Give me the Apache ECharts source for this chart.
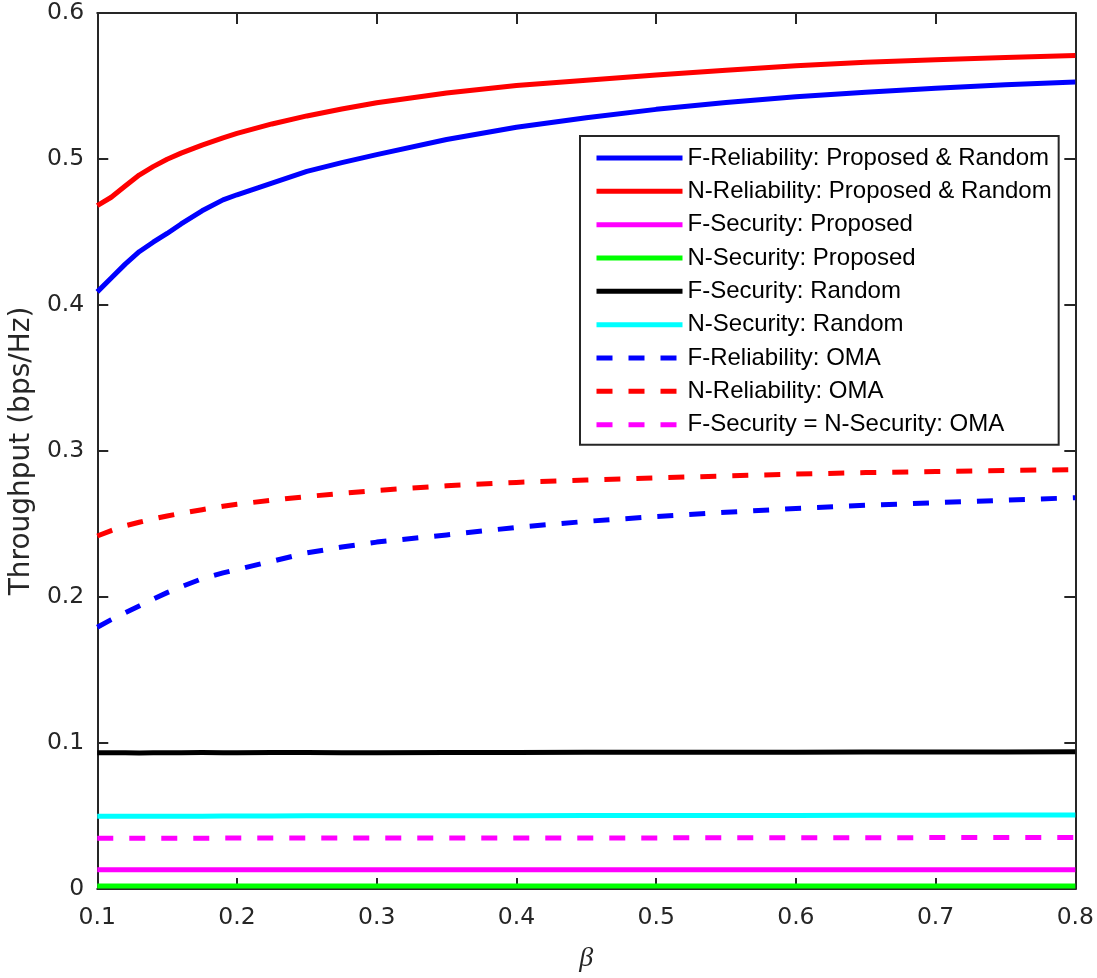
<!DOCTYPE html>
<html>
<head>
<meta charset="utf-8">
<script src="https://cdn.jsdelivr.net/npm/echarts@6/dist/echarts.min.js"></script>
<style>
html,body{margin:0;padding:0;background:#fff;overflow:hidden;}
#chart{width:1097px;height:978px;}
</style>
</head>
<body>
<div id="chart"></div>
<script>
// beta values (x axis)
const beta = [0.1, 0.11, 0.12, 0.13, 0.14, 0.15, 0.16, 0.175, 0.19, 0.2, 0.225, 0.25, 0.275, 0.3, 0.35, 0.4, 0.45, 0.5, 0.55, 0.6, 0.65, 0.7, 0.75, 0.8];

// series values
const fRelProposedRandom = [0.409, 0.4185, 0.428, 0.4365, 0.4430, 0.4490, 0.4555, 0.4645, 0.4720, 0.4755, 0.4835, 0.4915, 0.4975, 0.5030, 0.5134, 0.5218, 0.5282, 0.5340, 0.5387, 0.5426, 0.5458, 0.5485, 0.5508, 0.5527];
const nRelProposedRandom = [0.468, 0.4738, 0.4815, 0.4890, 0.4948, 0.4998, 0.5040, 0.5095, 0.5145, 0.5175, 0.5240, 0.5295, 0.5342, 0.5385, 0.5452, 0.5504, 0.5540, 0.5575, 0.5608, 0.5638, 0.5662, 0.5679, 0.5695, 0.5709];
const fSecProposed = [0.0132, 0.0132, 0.0132, 0.0132, 0.0132, 0.0132, 0.0132, 0.0132, 0.0132, 0.0132, 0.0132, 0.0132, 0.0132, 0.0132, 0.0132, 0.0132, 0.0132, 0.0132, 0.0132, 0.0132, 0.0132, 0.0132, 0.0132, 0.0132];
const nSecProposed = [0.002, 0.002, 0.002, 0.002, 0.002, 0.002, 0.002, 0.002, 0.002, 0.002, 0.002, 0.002, 0.002, 0.002, 0.002, 0.002, 0.002, 0.002, 0.002, 0.002, 0.002, 0.002, 0.002, 0.002];
const fSecRandom = [0.0934, 0.0933, 0.0933, 0.0932, 0.0933, 0.0934, 0.0934, 0.0935, 0.0934, 0.0934, 0.0935, 0.0935, 0.0934, 0.0934, 0.0935, 0.0935, 0.0936, 0.0936, 0.0937, 0.0937, 0.0938, 0.0938, 0.0939, 0.0940];
const nSecRandom = [0.0498, 0.0498, 0.0498, 0.0498, 0.0499, 0.0499, 0.0499, 0.0499, 0.0500, 0.0500, 0.0500, 0.0501, 0.0501, 0.0501, 0.0502, 0.0502, 0.0503, 0.0503, 0.0504, 0.0504, 0.0505, 0.0505, 0.0506, 0.0506];
const fRelOMA = [0.1793, 0.1845, 0.1892, 0.1938, 0.1985, 0.2030, 0.2070, 0.2125, 0.2165, 0.2188, 0.2245, 0.2302, 0.2342, 0.2376, 0.2425, 0.2477, 0.2518, 0.2551, 0.2580, 0.2606, 0.2628, 0.2646, 0.2663, 0.2680];
const nRelOMA = [0.2418, 0.2455, 0.2488, 0.2512, 0.2535, 0.2555, 0.2573, 0.2598, 0.2622, 0.2635, 0.2663, 0.2688, 0.2710, 0.2730, 0.2762, 0.2785, 0.2801, 0.2816, 0.2829, 0.2842, 0.2852, 0.2860, 0.2866, 0.2873];
const secOMA = [0.0348, 0.0348, 0.0348, 0.0348, 0.0348, 0.0348, 0.0348, 0.0348, 0.0349, 0.0349, 0.0349, 0.0349, 0.0349, 0.0349, 0.0350, 0.0350, 0.0350, 0.0350, 0.0351, 0.0351, 0.0351, 0.0352, 0.0352, 0.0352];

const seriesNames = [
  'F-Reliability: Proposed & Random',
  'N-Reliability: Proposed & Random',
  'F-Security: Proposed',
  'N-Security: Proposed',
  'F-Security: Random',
  'N-Security: Random',
  'F-Reliability: OMA',
  'N-Reliability: OMA',
  'F-Security = N-Security: OMA'
];
const seriesValues = [fRelProposedRandom, nRelProposedRandom, fSecProposed, nSecProposed, fSecRandom, nSecRandom, fRelOMA, nRelOMA, secOMA];
const seriesColors = ['#0000ff', '#ff0000', '#ff00ff', '#00ff00', '#000000', '#00ffff', '#0000ff', '#ff0000', '#ff00ff'];
const seriesDashed = [false, false, false, false, false, false, true, true, true];

const xTicks = [0.1, 0.8, 0.1]; // min, max, interval
const yTicks = [0, 0.6, 0.1];

const axisColor = '#262626';
const fontFam = '"Liberation Sans", Arial, Helvetica, sans-serif';
const tickFont = '"DejaVu Sans", "Liberation Sans", sans-serif';

const chart = echarts.init(document.getElementById('chart'), null, {renderer: 'canvas', width: 1097, height: 978});

const series = seriesNames.map((name, i) => ({
  name: name,
  type: 'line',
  xAxisIndex: 0,
  yAxisIndex: 0,
  data: beta.map((b, j) => [b, seriesValues[i][j]]),
  symbol: 'none',
  showSymbol: false,
  smooth: false,
  clip: false,
  animation: false,
  lineStyle: {
    color: seriesColors[i],
    width: 5,
    type: seriesDashed[i] ? [16, 16] : 'solid',
    cap: 'butt',
    join: 'round'
  },
  itemStyle: {color: seriesColors[i]},
  z: 2 + i
}));

const option = {
  animation: false,
  backgroundColor: '#ffffff',
  grid: {left: 97, top: 13, width: 980, height: 880, containLabel: false},
  xAxis: [
    {
      type: 'value', position: 'bottom',
      min: xTicks[0], max: xTicks[1], interval: xTicks[2],
      name: 'β', nameLocation: 'middle', nameGap: 56,
      nameTextStyle: {fontFamily: '"Liberation Serif", "Times New Roman", serif', fontStyle: 'italic', fontSize: 28, color: '#262626'},
      axisLine: {show: true, onZero: false, lineStyle: {color: axisColor, width: 2}},
      axisTick: {show: true, inside: true, length: 11, lineStyle: {color: axisColor, width: 2}},
      axisLabel: {show: true, margin: 17, fontSize: 23.5, fontFamily: tickFont, color: axisColor,
        formatter: v => v.toFixed(1)},
      splitLine: {show: false}
    },
    {
      type: 'value', position: 'top',
      min: xTicks[0], max: xTicks[1], interval: xTicks[2],
      axisLine: {show: true, onZero: false, lineStyle: {color: axisColor, width: 2}},
      axisTick: {show: true, inside: true, length: 11, lineStyle: {color: axisColor, width: 2}},
      axisLabel: {show: false},
      splitLine: {show: false}
    }
  ],
  yAxis: [
    {
      type: 'value', position: 'left',
      min: yTicks[0], max: yTicks[1], interval: yTicks[2],
      name: 'Throughput (bps/Hz)', nameLocation: 'middle', nameGap: 59,
      nameTextStyle: {fontFamily: tickFont, fontSize: 28, color: axisColor},
      axisLine: {show: true, onZero: false, lineStyle: {color: axisColor, width: 2}},
      axisTick: {show: true, inside: true, length: 11, lineStyle: {color: axisColor, width: 2}},
      axisLabel: {show: true, margin: 13, fontSize: 23.5, fontFamily: tickFont, color: axisColor,
        padding: [4, 0, 0, 0],
        formatter: v => (v === 0 ? '0' : v.toFixed(1))},
      splitLine: {show: false}
    },
    {
      type: 'value', position: 'right',
      min: yTicks[0], max: yTicks[1], interval: yTicks[2],
      axisLine: {show: true, onZero: false, lineStyle: {color: axisColor, width: 2}},
      axisTick: {show: true, inside: true, length: 11, lineStyle: {color: axisColor, width: 2}},
      axisLabel: {show: false},
      splitLine: {show: false}
    }
  ],
  legend: {
    show: true,
    orient: 'vertical',
    left: 580,
    top: 136,
    padding: [10, 7, 8, 14],
    itemGap: 9.33,
    itemWidth: 86,
    itemHeight: 24,
    backgroundColor: '#ffffff',
    borderColor: axisColor,
    borderWidth: 2,
    borderRadius: 0,
    selectedMode: false,
    data: seriesNames,
    lineStyle: {width: 5},
    itemStyle: {opacity: 0},
    textStyle: {fontFamily: fontFam, fontSize: 24, color: '#000000'}
  },
  series: series
};

chart.setOption(option);
</script>
</body>
</html>
